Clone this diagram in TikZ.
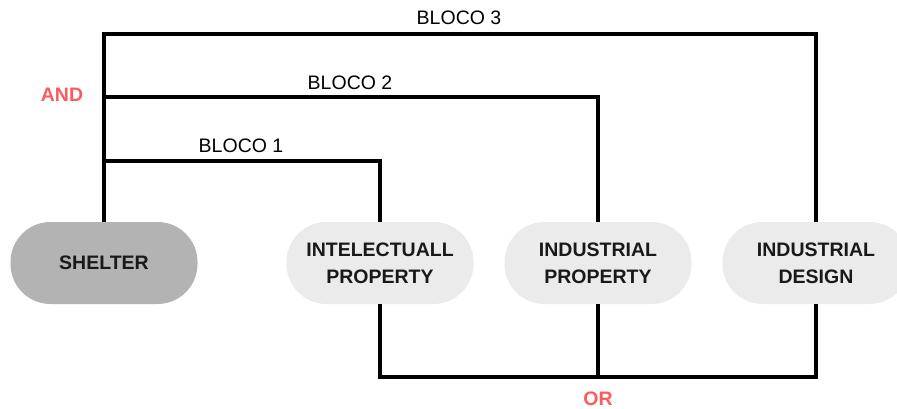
\documentclass[tikz,border=0pt]{standalone}
\usepackage{fontspec}
\setmainfont{Liberation Sans}
\usepackage{xcolor}
\usetikzlibrary{positioning}
\definecolor{logicred}{HTML}{FF5A5A}
\definecolor{darkpill}{HTML}{B3B3B3}
\definecolor{lightpill}{HTML}{EBEBEB}

\begin{document}
\begin{tikzpicture}
  [x=1pt,y=-1pt,
   pill/.style={rectangle,rounded corners=40pt,minimum width=187pt,minimum height=82pt,
     inner sep=0pt,align=center,text=black!90,font=\bfseries\fontsize{19.5}{27}\selectfont},
   blocklabel/.style={inner sep=0pt,font=\fontsize{19.5}{24}\selectfont},
   logiclabel/.style={inner sep=0pt,text=logicred,font=\bfseries\fontsize{19.5}{24}\selectfont},
   wire/.style={line width=3.4pt,line join=miter}]
  \useasboundingbox (0,0) rectangle (897,409);

  \node[pill,fill=darkpill]  (shelter) at (104,263) {SHELTER};
  \node[pill,fill=lightpill] (intel)   at (380,263) {INTELECTUALL\\PROPERTY};
  \node[pill,fill=lightpill] (indprop) at (598,263) {INDUSTRIAL\\PROPERTY};
  \node[pill,fill=lightpill] (design)  at (816,263) {INDUSTRIAL\\DESIGN};

  \coordinate (and3) at (104,34);
  \coordinate (and2) at (104,97);
  \coordinate (and1) at (104,161);
  \coordinate (or)   at (380,377);

  \draw[wire] (shelter.north) -- (and3) -| (design.north);
  \draw[wire] (and2) -| (indprop.north);
  \draw[wire] (and1) -| (intel.north);
  \draw[wire] (intel.south) -- (or) -| (design.south);
  \draw[wire] (indprop.south) -- (indprop.south |- or);

  \node[blocklabel] (bloco3) at (459,18)  {BLOCO 3};
  \node[blocklabel] (bloco2) at (350,83)  {BLOCO 2};
  \node[blocklabel] (bloco1) at (241,146) {BLOCO 1};

  \node[logiclabel] (andlabel) at (62,95)  {AND};
  \node[logiclabel] (orlabel)  at (598,399) {OR};
\end{tikzpicture}
\end{document}
